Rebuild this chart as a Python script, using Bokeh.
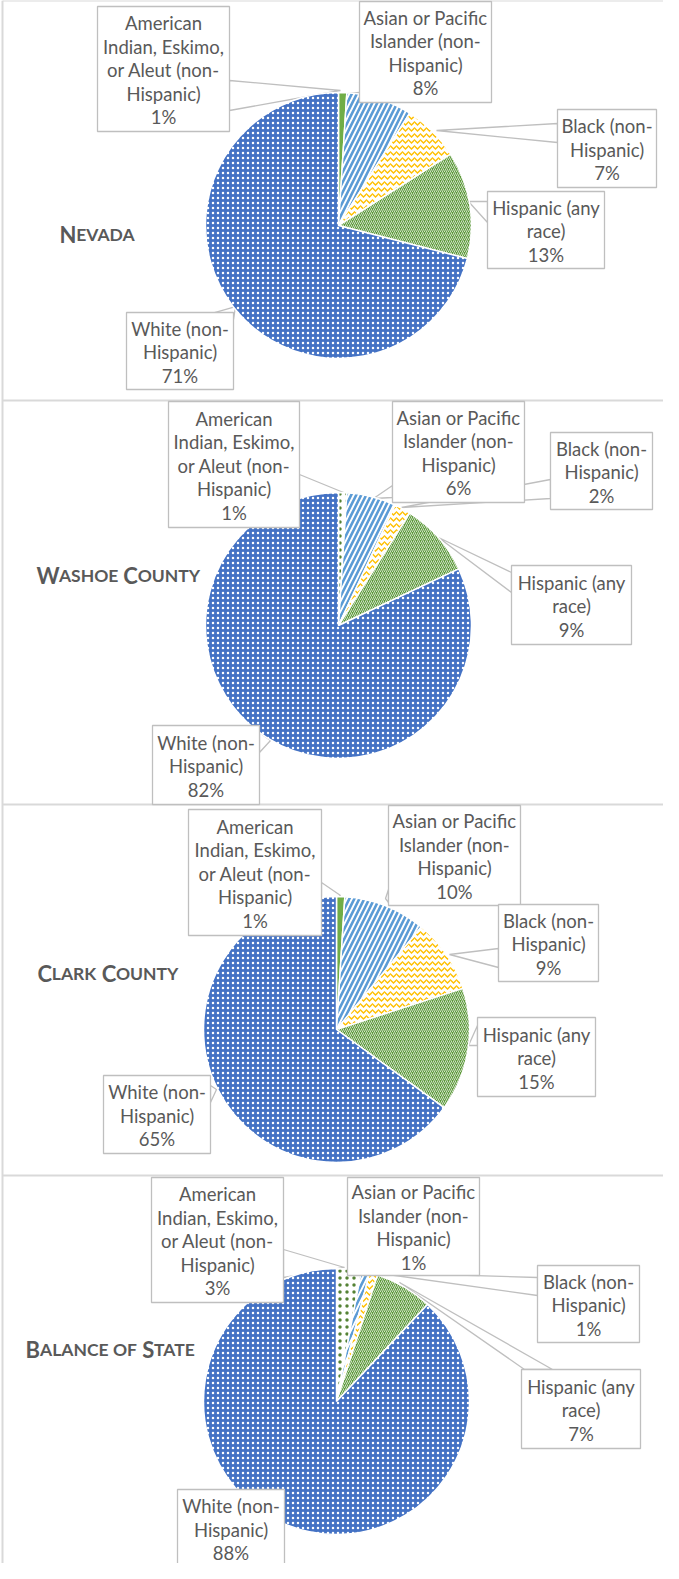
import math
from bokeh.plotting import figure
from bokeh.models import ColumnDataSource, Range1d
from bokeh.embed import file_html
from bokeh.resources import INLINE
from bokeh.core.properties import value

# ---------------- data ----------------
categories = [
    "American Indian, Eskimo, or Aleut (non-Hispanic)",
    "Asian or Pacific Islander (non-Hispanic)",
    "Black (non-Hispanic)",
    "Hispanic (any race)",
    "White (non-Hispanic)",
]
category_lines = [
    ["American", "Indian, Eskimo,", "or Aleut (non-", "Hispanic)"],
    ["Asian or Pacific", "Islander (non-", "Hispanic)"],
    ["Black (non-", "Hispanic)"],
    ["Hispanic (any", "race)"],
    ["White (non-", "Hispanic)"],
]
regions = ["Nevada", "Washoe County", "Clark County", "Balance of State"]
nevada = [1, 8, 7, 13, 71]
washoe_county = [1, 6, 2, 9, 82]
clark_county = [1, 10, 9, 15, 65]
balance_of_state = [3, 1, 1, 7, 88]
series = [nevada, washoe_county, clark_county, balance_of_state]

# ---------------- layout (reference pixel coordinates) ----------------
PAGE_W, PAGE_H, M = 679, 1579, 8
def Y(y):
    return PAGE_H - y

pie_centers = [(346, 233), (346, 633), (344, 1037), (344, 1409)]
pie_radius = 133
title_pos = [(67, 242), (44, 583), (45, 981), (33, 1357)]
panel_tops = [8, 408, 812, 1183]
panel_left = 10

# callout: box (left, top, right, bottom), anchor, base1, base2
callouts = [
    [((105, 14, 237, 139), (348, 98), (237, 88), (237, 118)),
     ((367, 9, 499, 110), (355, 101), (367, 100), (367, 108)),
     ((565, 117, 664, 195), (444, 138), (565, 131), (565, 150)),
     ((495, 199, 612, 276), (476, 209), (495, 209), (495, 230)),
     ((134, 320, 241, 397), (243, 314), (222, 320), (241, 327))],
    [((176, 409, 307, 535), (351, 500), (307, 482), (307, 510)),
     ((400, 409, 532, 510), (381, 506), (400, 493), (400, 505)),
     ((558, 440, 660, 517), (409, 515), (558, 487), (558, 506)),
     ((519, 573, 639, 652), (446, 545), (519, 580), (519, 600)),
     ((160, 733, 267, 812), (278, 748), (267, 740), (267, 760))],
    [((196, 817, 329, 943), (348, 903), (329, 890), (329, 915)),
     ((396, 813, 528, 913), (393, 906), (396, 897), (396, 910)),
     ((506, 912, 606, 989), (457, 962), (506, 956), (506, 975)),
     ((485, 1025, 603, 1104), (476, 1053), (485, 1033), (485, 1053)),
     ((111, 1083, 218, 1161), (224, 1097), (218, 1093), (218, 1110))],
    [((159, 1185, 291, 1310), (352, 1275), (291, 1257), (291, 1285)),
     ((355, 1185, 487, 1283), (372, 1283), (370, 1283), (378, 1283)),
     ((545, 1273, 647, 1350), (381, 1280), (545, 1285), (545, 1303)),
     ((529, 1377, 648, 1456), (407, 1290), (532, 1377), (560, 1377)),
     ((185, 1497, 292, 1600), (297, 1522), (292, 1515), (292, 1532))],
]

# styles: (fill, hatch, hatch_color, hatch_scale, hatch_weight)
ai_solid = ("#70AD47", " ", "#70AD47", 4, 1)
ai_dots = ("#FFFFFF", "dot", "#548235", 7, 1.2)
cat_styles = [
    None,
    ("#FFFFFF", "right_diagonal_line", "#5B9BD5", 10, 2.6),
    ("#FFFFFF", "horizontal_wave", "#FFC000", 6, 1.4),
    ("#5E9A3C", "right_diagonal_line", "#FFFFFF", 4, 0.7),
    ("#4472C4", "dot", "#FFFFFF", 5, 0.6),
]
ai_style_per_panel = [ai_solid, ai_dots, ai_solid, ai_dots]

TEXT_COLOR = "#595959"
BOX_LINE = "#BFBFBF"
LABEL_FONT = "Lato"
LABEL_SIZE = 18.5
LINE_STEP = 23.5

# Lato Bold approximate advances (per em)
BOLD_W = {"A": .69, "B": .66, "C": .65, "D": .74, "E": .56, "F": .54, "H": .76,
          "K": .69, "L": .48, "N": .76, "O": .79, "R": .65, "S": .54, "T": .59,
          "U": .73, "V": .69, "W": 1.02, "Y": .65}
BIG, SMALL = 22, 17.5

p = figure(width=PAGE_W - 2 * M, height=PAGE_H - 2 * M,
           x_range=Range1d(M, PAGE_W - M), y_range=Range1d(M, PAGE_H - M),
           output_backend="svg", toolbar_location=None,
           x_axis_type=None, y_axis_type=None, min_border=0)
p.grid.visible = False
p.outline_line_color = None
p.background_fill_color = "white"
p.border_fill_color = "white"

# panel borders
p.segment(x0=[panel_left] * 4, y0=[Y(t) for t in panel_tops],
          x1=[PAGE_W + 10] * 4, y1=[Y(t) for t in panel_tops],
          line_color="#D9D9D9", line_width=2)
p.segment(x0=[panel_left], y0=[Y(panel_tops[0])], x1=[panel_left], y1=[Y(PAGE_H + 10)],
          line_color="#D9D9D9", line_width=2)

# callout pointers (beneath the pies)
pxs, pys = [], []
for panel in callouts:
    for box, anc, b1, b2 in panel:
        pxs.append([anc[0], b1[0], b2[0]])
        pys.append([Y(anc[1]), Y(b1[1]), Y(b2[1])])
p.patches(pxs, pys, fill_color="white", line_color=BOX_LINE, line_width=1.3)

# pies
wx, wy, sa, ea, fc, hp, hc, hs, hw = [], [], [], [], [], [], [], [], []
for k, vals in enumerate(series):
    total = float(sum(vals))
    cum = 0.0
    cx, cy = pie_centers[k]
    for i, v in enumerate(vals):
        st = ai_style_per_panel[k] if i == 0 else cat_styles[i]
        a0 = math.pi / 2 - 2 * math.pi * cum / total
        cum += v
        a1 = math.pi / 2 - 2 * math.pi * cum / total
        wx.append(cx); wy.append(Y(cy)); sa.append(a0); ea.append(a1)
        fc.append(st[0]); hp.append(st[1]); hc.append(st[2]); hs.append(st[3]); hw.append(st[4])
wsrc = ColumnDataSource(dict(x=wx, y=wy, sa=sa, ea=ea, fc=fc, hp=hp, hc=hc, hs=hs, hw=hw))
p.wedge(x="x", y="y", radius=pie_radius, start_angle="sa", end_angle="ea",
        direction="clock", source=wsrc, fill_color="fc", hatch_pattern="hp",
        hatch_color="hc", hatch_scale="hs", hatch_weight="hw",
        line_color="white", line_width=1.5)

# callout boxes and text
ql, qr, qt, qb = [], [], [], []
tx, ty, tt = [], [], []
for k, panel in enumerate(callouts):
    vals = series[k]
    for i, (box, anc, b1, b2) in enumerate(panel):
        l, t, r, b = box
        ql.append(l); qr.append(r); qt.append(Y(t)); qb.append(Y(b))
        lines = category_lines[i] + ["%d%%" % vals[i]]
        n = len(lines)
        bottom_eff = b if b <= PAGE_H else t + n * LINE_STEP + 8
        cyb = (t + bottom_eff) / 2.0
        for j, s in enumerate(lines):
            tx.append((l + r) / 2.0)
            ty.append(Y(cyb + (j - (n - 1) / 2.0) * LINE_STEP + 1))
            tt.append(s)
p.quad(left=ql, right=qr, top=qt, bottom=qb, fill_color="white",
       line_color=BOX_LINE, line_width=1.3)
p.text(x=tx, y=ty, text=tt, text_align="center", text_baseline="middle",
       text_font=value(LABEL_FONT), text_font_size="%spx" % LABEL_SIZE,
       text_color=TEXT_COLOR)

# panel titles in small caps (upper-case letters large, lower-case letters as small caps)
bx, by, bt, sx, sy, st_ = [], [], [], [], [], []
for k, name in enumerate(regions):
    x0, base = title_pos[k]
    x = x0
    for wi, word in enumerate(name.split(" ")):
        if wi > 0:
            x += 0.27 * BIG
        run, run_big = "", None
        for ch in word + "\0":
            is_big = ch.isupper()
            if ch == "\0" or (run and is_big != run_big):
                size = BIG if run_big else SMALL
                if run_big:
                    bx.append(x); by.append(Y(base)); bt.append(run.upper())
                else:
                    sx.append(x); sy.append(Y(base)); st_.append(run.upper())
                x += sum(BOLD_W.get(c, 0.65) for c in run.upper()) * size
                run = ""
            if ch != "\0":
                run += ch
                run_big = is_big
p.text(x=bx, y=by, text=bt, text_align="left", text_baseline="alphabetic",
       text_font=value("Lato"), text_font_style="bold", text_font_size="%dpx" % BIG,
       text_color=TEXT_COLOR)
p.text(x=sx, y=sy, text=st_, text_align="left", text_baseline="alphabetic",
       text_font=value("Lato"), text_font_style="bold", text_font_size="%spx" % SMALL,
       text_color=TEXT_COLOR)

open("out.html", "w").write(file_html(p, INLINE))
